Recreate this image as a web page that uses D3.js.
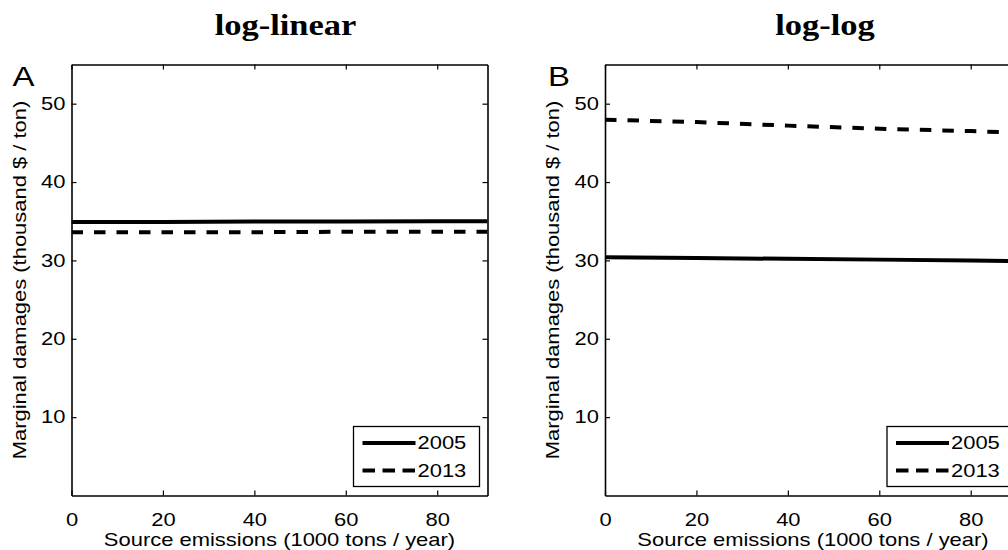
<!DOCTYPE html>
<html>
<head>
<meta charset="utf-8">
<script src="https://cdn.jsdelivr.net/npm/d3@7"></script>
<style>
  html, body { margin: 0; padding: 0; background: #fff; }
  svg { display: block; }
  text { font-family: "Liberation Sans", Arial, Helvetica, sans-serif; fill: #000; }
  .title { font-family: "Liberation Serif", "Times New Roman", serif; font-weight: bold; }
</style>
</head>
<body>
<svg id="chart" width="1008" height="550"></svg>
<script>
// Source emissions (1000 tons / year) at which each curve is sampled
const emissions = [0, 20, 40, 60, 80, 91];

// Marginal damages (thousand $ / ton), log-linear model
const logLinear2005 = [34.9, 34.9, 34.95, 34.95, 35.0, 35.0];
const logLinear2013 = [33.6, 33.6, 33.6, 33.65, 33.65, 33.65];

// Marginal damages (thousand $ / ton), log-log model
const logLog2005 = [30.4, 30.3, 30.2, 30.1, 30.0, 29.9];
const logLog2013 = [47.95, 47.65, 47.2, 46.8, 46.5, 46.3];

const xTicks = [0, 20, 40, 60, 80];
const yTicks = [10, 20, 30, 40, 50];
const years = ["2005", "2013"];
const panelTitles = ["log-linear", "log-log"];
const panelLetters = ["A", "B"];

const xDomain = [0, 91];
const yDomain = [0, 55];

const svg = d3.select("#chart");

const plotW = 416, plotH = 431;
const plotTop = 64.5;
const panels = [
  { left: 71.5, title: panelTitles[0], letter: panelLetters[0], series: [logLinear2005, logLinear2013], titleX: 285.5 },
  { left: 605, title: panelTitles[1], letter: panelLetters[1], series: [logLog2005, logLog2013], titleX: 825 }
];
const dashes = [null, "11.5,11"];
const legendDashes = [null, "12.5,7.5"];
const FS = 18;        // label font size
const WIDEN = 1.22;   // horizontal widening of the sans labels

// place a text at (x, y) and widen it along its reading direction
function widen(sel, x, y, extra) {
  sel.attr("x", 0).attr("y", 0)
    .attr("transform", `translate(${x},${y})${extra || ""} scale(${WIDEN},1)`);
}

panels.forEach((p, i) => {
  const g = svg.append("g").attr("transform", `translate(${p.left},${plotTop})`);
  const x = d3.scaleLinear().domain(xDomain).range([0, plotW]);
  const y = d3.scaleLinear().domain(yDomain).range([plotH, 0]);

  const clipId = "clip" + i;
  g.append("clipPath").attr("id", clipId)
    .append("rect").attr("width", plotW).attr("height", plotH);

  // data lines
  const line = d3.line().x((d, k) => x(emissions[k])).y(d => y(d));
  p.series.forEach((vals, s) => {
    g.append("path")
      .datum(vals)
      .attr("clip-path", `url(#${clipId})`)
      .attr("d", line)
      .attr("fill", "none")
      .attr("stroke", "#000")
      .attr("stroke-width", 4)
      .attr("stroke-dasharray", dashes[s]);
  });

  // axes with inward ticks on all four sides
  const bottom = g.append("g").attr("transform", `translate(0,${plotH})`)
    .call(d3.axisBottom(x).tickValues(xTicks).tickSizeInner(-5).tickSizeOuter(0));
  const top = g.append("g")
    .call(d3.axisTop(x).tickValues(xTicks).tickSizeInner(-5).tickSizeOuter(0).tickFormat(""));
  const leftAx = g.append("g")
    .call(d3.axisLeft(y).tickValues(yTicks).tickSizeInner(-5).tickSizeOuter(0));
  const rightAx = g.append("g").attr("transform", `translate(${plotW},0)`)
    .call(d3.axisRight(y).tickValues(yTicks).tickSizeInner(-5).tickSizeOuter(0).tickFormat(""));

  [bottom, top, leftAx, rightAx].forEach(a => {
    a.select(".domain").attr("stroke", "#000").attr("stroke-width", 1.6);
    a.selectAll(".tick line").attr("stroke", "#000").attr("stroke-width", 1.2);
    a.selectAll(".tick text").attr("font-size", FS).attr("font-family", "Liberation Sans, Arial, sans-serif");
  });
  bottom.selectAll(".tick text").attr("dy", null).each(function () {
    widen(d3.select(this), 0, 30);
  });
  leftAx.selectAll(".tick text").each(function () {
    widen(d3.select(this), -6, 0);
  });

  // axis labels
  g.append("text")
    .attr("text-anchor", "middle").attr("font-size", FS)
    .text("Source emissions (1000 tons / year)")
    .call(widen, plotW / 2, plotH + 50.5);
  g.append("text")
    .attr("text-anchor", "middle").attr("font-size", FS)
    .text("Marginal damages (thousand $ / ton)")
    .call(widen, -46, plotH / 2, " rotate(-90)");

  // panel letter
  g.append("text")
    .attr("font-size", 27)
    .text(p.letter)
    .call(widen, i === 0 ? -59 : -57, 21.5);

  // title, widened to the extended bold serif look
  svg.append("text").attr("class", "title")
    .attr("transform", `translate(${p.titleX},35) scale(1.15,1)`)
    .attr("text-anchor", "middle").attr("font-size", 30)
    .text(p.title);

  // legend
  const lgW = 126, lgH = 60;
  const lg = g.append("g").attr("transform", `translate(${plotW - 8 - lgW},${plotH - 9 - lgH})`);
  lg.append("rect").attr("width", lgW).attr("height", lgH)
    .attr("fill", "#fff").attr("stroke", "#000").attr("stroke-width", 1.3);
  years.forEach((yr, s) => {
    const cy = 16.5 + s * 27.5;
    lg.append("line")
      .attr("x1", 9).attr("x2", 62).attr("y1", cy).attr("y2", cy)
      .attr("stroke", "#000").attr("stroke-width", 4)
      .attr("stroke-dasharray", legendDashes[s]);
    lg.append("text")
      .attr("dy", "0.36em")
      .attr("font-size", FS)
      .text(yr)
      .call(widen, 64, cy);
  });
});
</script>
</body>
</html>
